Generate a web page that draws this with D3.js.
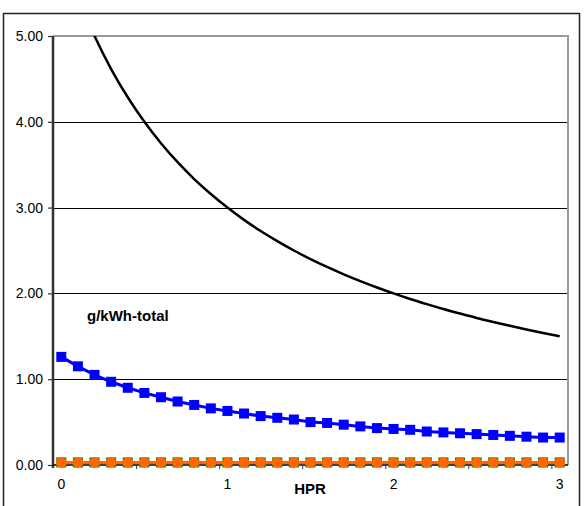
<!DOCTYPE html>
<html>
<head>
<meta charset="utf-8">
<script src="https://cdn.jsdelivr.net/npm/d3@7"></script>
<style>
  html, body { margin: 0; padding: 0; background: #fff; }
  svg { display: block; font-family: "Liberation Sans", Arial, sans-serif; }
</style>
</head>
<body>
<svg id="chart" width="584" height="506"></svg>
<script>
// HPR categories (0 to 3 in steps of 0.1)
const hpr = ["0","0.1","0.2","0.3","0.4","0.5","0.6","0.7","0.8","0.9",
             "1","1.1","1.2","1.3","1.4","1.5","1.6","1.7","1.8","1.9",
             "2","2.1","2.2","2.3","2.4","2.5","2.6","2.7","2.8","2.9","3"];

// g/kWh-total
const total = [6.000, 5.455, 5.000, 4.615, 4.286, 4.000, 3.750, 3.529, 3.333, 3.158,
               3.000, 2.857, 2.727, 2.609, 2.500, 2.400, 2.308, 2.222, 2.143, 2.069,
               2.000, 1.935, 1.875, 1.818, 1.765, 1.714, 1.667, 1.622, 1.579, 1.538, 1.500];

// component shown with blue squares
const blueSeries = [1.26, 1.15, 1.05, 0.97, 0.90, 0.84, 0.79, 0.74, 0.70, 0.66,
                    0.63, 0.60, 0.57, 0.55, 0.53, 0.50, 0.49, 0.47, 0.45, 0.43,
                    0.42, 0.41, 0.39, 0.38, 0.37, 0.36, 0.35, 0.34, 0.33, 0.32, 0.32];

// component shown with orange circles
const orangeSeries = [0.03, 0.03, 0.03, 0.03, 0.03, 0.03, 0.03, 0.03, 0.03, 0.03,
                      0.03, 0.03, 0.03, 0.03, 0.03, 0.03, 0.03, 0.03, 0.03, 0.03,
                      0.03, 0.03, 0.03, 0.03, 0.03, 0.03, 0.03, 0.03, 0.03, 0.03, 0.03];

// component shown with green squares (mostly under the orange)
const greenSeries = [0.03, 0.03, 0.03, 0.03, 0.03, 0.03, 0.03, 0.03, 0.03, 0.03,
                     0.03, 0.03, 0.03, 0.03, 0.03, 0.03, 0.03, 0.03, 0.03, 0.03,
                     0.03, 0.03, 0.03, 0.03, 0.03, 0.03, 0.03, 0.03, 0.03, 0.03, 0.03];

const yTicks = [0, 1, 2, 3, 4, 5];
const xLabelIdx = [0, 10, 20, 30];
const xTickIdx = [5, 10, 15, 20, 25, 30];

const svg = d3.select("#chart");
const L = 53, R = 568, T = 36, B = 465;

// outer chart frame
svg.append("rect")
  .attr("x", 3.5).attr("y", 13.5).attr("width", 576).attr("height", 560)
  .attr("fill", "none").attr("stroke", "#222").attr("stroke-width", 1.5);

const x = d3.scaleBand().domain(d3.range(hpr.length)).range([L, R]).padding(0);
const xb = d3.scaleLinear().domain([0, hpr.length]).range([L, R]);
const y = d3.scaleLinear().domain([0, 5]).range([B, T]);
const cx = i => x(i) + x.bandwidth() / 2;

svg.append("defs").append("clipPath").attr("id", "plotClip")
  .append("rect").attr("x", L).attr("y", T).attr("width", R - L).attr("height", B - T + 6);

// gridlines
svg.append("g").selectAll("line")
  .data(yTicks.filter(d => d > 0 && d < 5))
  .join("line")
  .attr("x1", L).attr("x2", R)
  .attr("y1", d => Math.round(y(d)) + 0.5).attr("y2", d => Math.round(y(d)) + 0.5)
  .attr("stroke", "#000").attr("stroke-width", 1);

// plot area border (top and right)
svg.append("path")
  .attr("d", `M${L},${T} H${R} V${B}`)
  .attr("fill", "none").attr("stroke", "#9a9a9a").attr("stroke-width", 2);

// y axis
const yAxis = svg.append("g")
  .attr("transform", `translate(${L},0)`)
  .call(d3.axisLeft(y).tickValues(yTicks).tickFormat(d3.format(".2f")).tickSize(5).tickPadding(5));
yAxis.select(".domain").attr("stroke", "#333").attr("stroke-width", 2.5).attr("d", `M0,${T}V${B + 3}`);
yAxis.selectAll(".tick line").attr("stroke", "#333").attr("stroke-width", 1.2);
yAxis.selectAll(".tick text").attr("font-size", 14).attr("fill", "#000")
  .attr("font-family", "Liberation Sans, Arial, sans-serif");

// x axis baseline and tick marks between categories
const xAxis = svg.append("g")
  .attr("transform", `translate(0,${B})`)
  .call(d3.axisBottom(xb).tickValues(xTickIdx).tickFormat("").tickSize(4));
xAxis.select(".domain").attr("stroke", "#000").attr("stroke-width", 1.5).attr("d", `M${L},0H${R}`);
xAxis.selectAll(".tick line").attr("stroke", "#333");

// x category labels
const xLab = svg.append("g")
  .attr("transform", `translate(0,${B})`)
  .call(d3.axisBottom(x).tickValues(xLabelIdx).tickFormat(i => hpr[i]).tickSize(0).tickPadding(14));
xLab.select(".domain").remove();
xLab.selectAll(".tick text").attr("font-size", 14).attr("fill", "#000")
  .attr("font-family", "Liberation Sans, Arial, sans-serif");

// axis title
svg.append("text")
  .attr("x", 310).attr("y", 494).attr("text-anchor", "middle")
  .attr("font-size", 15).attr("font-weight", "bold").text("HPR");

const plot = svg.append("g").attr("clip-path", "url(#plotClip)");

function lineFor(vals, curve) {
  return d3.line().x((d, i) => cx(i)).y(d => y(d)).curve(curve || d3.curveLinear)(vals);
}

// green squares series
plot.append("path").attr("d", lineFor(greenSeries))
  .attr("fill", "none").attr("stroke", "#008000").attr("stroke-width", 2).attr("stroke-dasharray", "2,2");
plot.append("g").selectAll("rect").data(greenSeries).join("rect")
  .attr("x", (d, i) => cx(i) - 5).attr("y", d => y(d) - 5)
  .attr("width", 10).attr("height", 10).attr("fill", "#008000");

// orange circles series
plot.append("path").attr("d", lineFor(orangeSeries))
  .attr("fill", "none").attr("stroke", "#ff6600").attr("stroke-width", 3);
plot.append("g").selectAll("circle").data(orangeSeries).join("circle")
  .attr("cx", (d, i) => cx(i)).attr("cy", d => y(d)).attr("r", 5.4)
  .attr("fill", "#ff6600");

// blue squares series
plot.append("path").attr("d", lineFor(blueSeries))
  .attr("fill", "none").attr("stroke", "#0000ff").attr("stroke-width", 3);
plot.append("g").selectAll("rect").data(blueSeries).join("rect")
  .attr("x", (d, i) => cx(i) - 5).attr("y", d => y(d) - 5)
  .attr("width", 10).attr("height", 10).attr("fill", "#0000ff");

// total line
plot.append("path").attr("d", lineFor(total, d3.curveMonotoneX))
  .attr("fill", "none").attr("stroke", "#000").attr("stroke-width", 2.5);

// series label
svg.append("text")
  .attr("x", 87).attr("y", 321)
  .attr("font-size", 15).attr("font-weight", "bold").text("g/kWh-total");
</script>
</body>
</html>
